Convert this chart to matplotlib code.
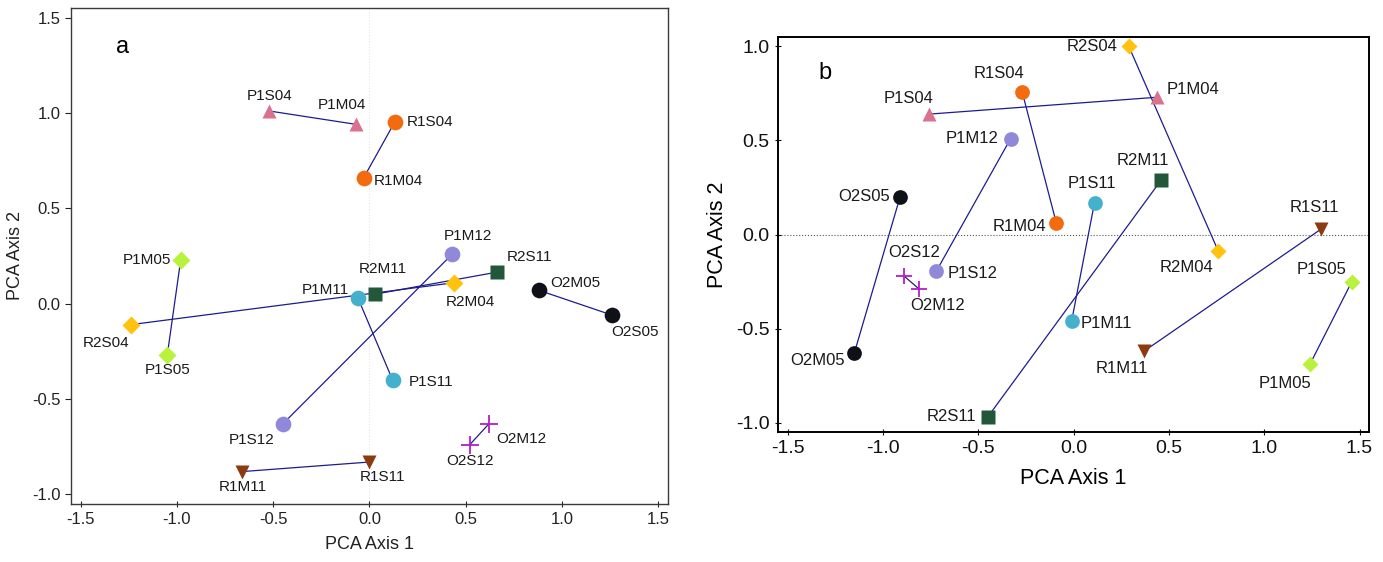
import matplotlib
matplotlib.use("Agg")
import matplotlib.pyplot as plt

plt.rcParams['font.family'] = ['Liberation Sans', 'DejaVu Sans']

# sample names (site + S/M + month), same order in both panels
names = ['P1S04', 'P1M04', 'R1S04', 'R1M04', 'P1M05', 'P1S05', 'R2S04', 'R2M04',
         'P1M11', 'P1S11', 'P1M12', 'P1S12', 'R2M11', 'R2S11', 'O2M05', 'O2S05',
         'O2M12', 'O2S12', 'R1M11', 'R1S11']

# panel a scores
xa = [-0.52, -0.07, 0.13, -0.03, -0.98, -1.05, -1.24, 0.44, -0.06, 0.12,
      0.43, -0.45, 0.03, 0.66, 0.88, 1.26, 0.62, 0.52, -0.66, 0.00]
ya = [1.01, 0.94, 0.95, 0.66, 0.23, -0.27, -0.11, 0.11, 0.03, -0.40,
      0.26, -0.63, 0.05, 0.165, 0.07, -0.06, -0.63, -0.74, -0.88, -0.83]

# panel b scores
xb = [-0.76, 0.44, -0.27, -0.09, 1.24, 1.46, 0.29, 0.76, -0.01, 0.11,
      -0.33, -0.72, 0.46, -0.45, -1.15, -0.91, -0.81, -0.89, 0.37, 1.30]
yb = [0.64, 0.73, 0.76, 0.06, -0.69, -0.25, 1.00, -0.09, -0.46, 0.17,
      0.51, -0.195, 0.29, -0.97, -0.63, 0.20, -0.29, -0.22, -0.62, 0.03]

ticks = [-1.5, -1.0, -0.5, 0.0, 0.5, 1.0, 1.5]

# marker / colour per group (site + month)
style = {
    'P104': ('^', '#d9718f'),
    'R104': ('o', '#f26b0f'),
    'P105': ('D', '#b8f23c'),
    'R204': ('D', '#ffc20e'),
    'P111': ('o', '#45b0cc'),
    'P112': ('o', '#9088d8'),
    'R211': ('s', '#22573a'),
    'O205': ('o', '#0e1218'),
    'O212': ('+', '#b41ec8'),
    'R111': ('v', '#8c3b10'),
}
msize = {'o': 1.0, '^': 0.95, 'v': 0.95, 's': 0.92, 'D': 0.8, '+': 1.1}

# label placement: (dx px, dy px downward, ha)
lab_a = {
    'P1S04': (0, -15, 'center'), 'P1M04': (-14, -19, 'center'),
    'R1S04': (12, 0, 'left'), 'R1M04': (10, 3, 'left'),
    'P1M12': (16, -18, 'center'), 'P1M05': (-10, 0, 'right'),
    'R2S11': (10, -15, 'left'), 'R2M11': (8, -25, 'center'),
    'P1M11': (-9, -8, 'right'), 'R2M04': (16, 19, 'center'),
    'O2M05': (11, -7, 'left'), 'O2S05': (23, 17, 'center'),
    'R2S04': (-25, 18, 'center'), 'P1S05': (0, 15, 'center'),
    'P1S11': (16, 2, 'left'), 'P1S12': (-31, 16, 'center'),
    'O2M12': (7, 15, 'left'), 'O2S12': (0, 16, 'center'),
    'R1M11': (0, 15, 'center'), 'R1S11': (13, 15, 'center'),
}
lab_b = {
    'R2S04': (-11, 0, 'right'), 'R1S04': (-23, -18, 'center'),
    'P1S04': (-20, -16, 'center'), 'P1M04': (9, -8, 'left'),
    'P1M12': (-12, 0, 'right'), 'R2M11': (-18, -19, 'center'),
    'P1S11': (-3, -19, 'center'), 'O2S05': (-10, 0, 'right'),
    'R1M04': (-10, 3, 'right'), 'R1S11': (-7, -21, 'center'),
    'R2M04': (-32, 16, 'center'), 'P1S05': (-30, -12, 'center'),
    'O2S12': (10, -23, 'center'), 'P1S12': (11, 2, 'left'),
    'O2M12': (18, 16, 'center'), 'P1M11': (9, 2, 'left'),
    'O2M05': (-9, 7, 'right'), 'R1M11': (-22, 17, 'center'),
    'P1M05': (-25, 19, 'center'), 'R2S11': (-12, 0, 'right'),
}


def group(n):
    return n[:2] + n[3:]


def panel(ax, xs, ys, labels, ms, fs, letter, letter_pos):
    pts = dict(zip(names, zip(xs, ys)))
    # connect S and M samples of the same group
    done = set()
    for n in names:
        g = group(n)
        if g in done:
            continue
        done.add(g)
        pair = [m for m in names if group(m) == g]
        ax.plot([pts[p][0] for p in pair], [pts[p][1] for p in pair],
                color='#1c1c8f', lw=0.9, zorder=2)
    for n in names:
        mk, col = style[group(n)]
        x, y = pts[n]
        if mk == '+':
            ax.plot(x, y, mk, color=col, ms=ms * msize[mk], mew=1.3, zorder=3)
        else:
            ax.plot(x, y, mk, color=col, ms=ms * msize[mk], mec='none', zorder=3)
        dx, dy, ha = labels[n]
        ax.annotate(n, (x, y), xytext=(dx, -dy), textcoords='offset pixels',
                    ha=ha, va='center', fontsize=fs, color='#1a1a1a')
    ax.set_xlim(-1.55, 1.55)
    ax.set_xticks(ticks)
    ax.xaxis.set_major_formatter(matplotlib.ticker.FormatStrFormatter('%.1f'))
    ax.yaxis.set_major_formatter(matplotlib.ticker.FormatStrFormatter('%.1f'))
    ax.text(letter_pos[0], letter_pos[1], letter, transform=ax.transAxes,
            fontsize=17, ha='left', va='center')


fig = plt.figure(figsize=(13.83, 5.62), dpi=100)

# panel a
ax1 = fig.add_axes([0.0513, 0.1032, 0.4317, 0.8826])
ax1.axvline(0, color='#e6e6e6', lw=0.8, ls=':', zorder=1)
panel(ax1, xa, ya, lab_a, 11.3, 11, 'a', (0.076, 0.922))
ax1.set_ylim(-1.05, 1.55)
ax1.set_yticks([-1.0, -0.5, 0.0, 0.5, 1.0, 1.5])
for s in ax1.spines.values():
    s.set_color('#3a3a3a')
    s.set_linewidth(1.0)
ax1.tick_params(axis='x', direction='inout', length=5, labelsize=12, colors='#222222')
ax1.tick_params(axis='y', direction='out', length=4, labelsize=12, colors='#222222')
ax1.set_xlabel('PCA Axis 1', fontsize=13, color='#222222', labelpad=6)
ax1.set_ylabel('PCA Axis 2', fontsize=13, color='#222222', labelpad=6)

# panel b
ax2 = fig.add_axes([0.5626, 0.2313, 0.4273, 0.7028])
ax2.axhline(0, color='#555555', lw=0.8, ls=':', zorder=1)
panel(ax2, xb, yb, lab_b, 10.6, 12, 'b', (0.068, 0.91))
ax2.set_ylim(-1.05, 1.05)
ax2.set_yticks([-1.0, -0.5, 0.0, 0.5, 1.0])
for s in ax2.spines.values():
    s.set_color('black')
    s.set_linewidth(1.4)
ax2.tick_params(axis='x', direction='inout', length=5, labelsize=14, colors='#111111')
ax2.tick_params(axis='y', direction='inout', length=5, labelsize=14, colors='#111111')
ax2.set_xlabel('PCA Axis 1', fontsize=15.5, labelpad=8)
ax2.set_ylabel('PCA Axis 2', fontsize=15.5, labelpad=6)

fig.savefig('out.png', dpi=100)
